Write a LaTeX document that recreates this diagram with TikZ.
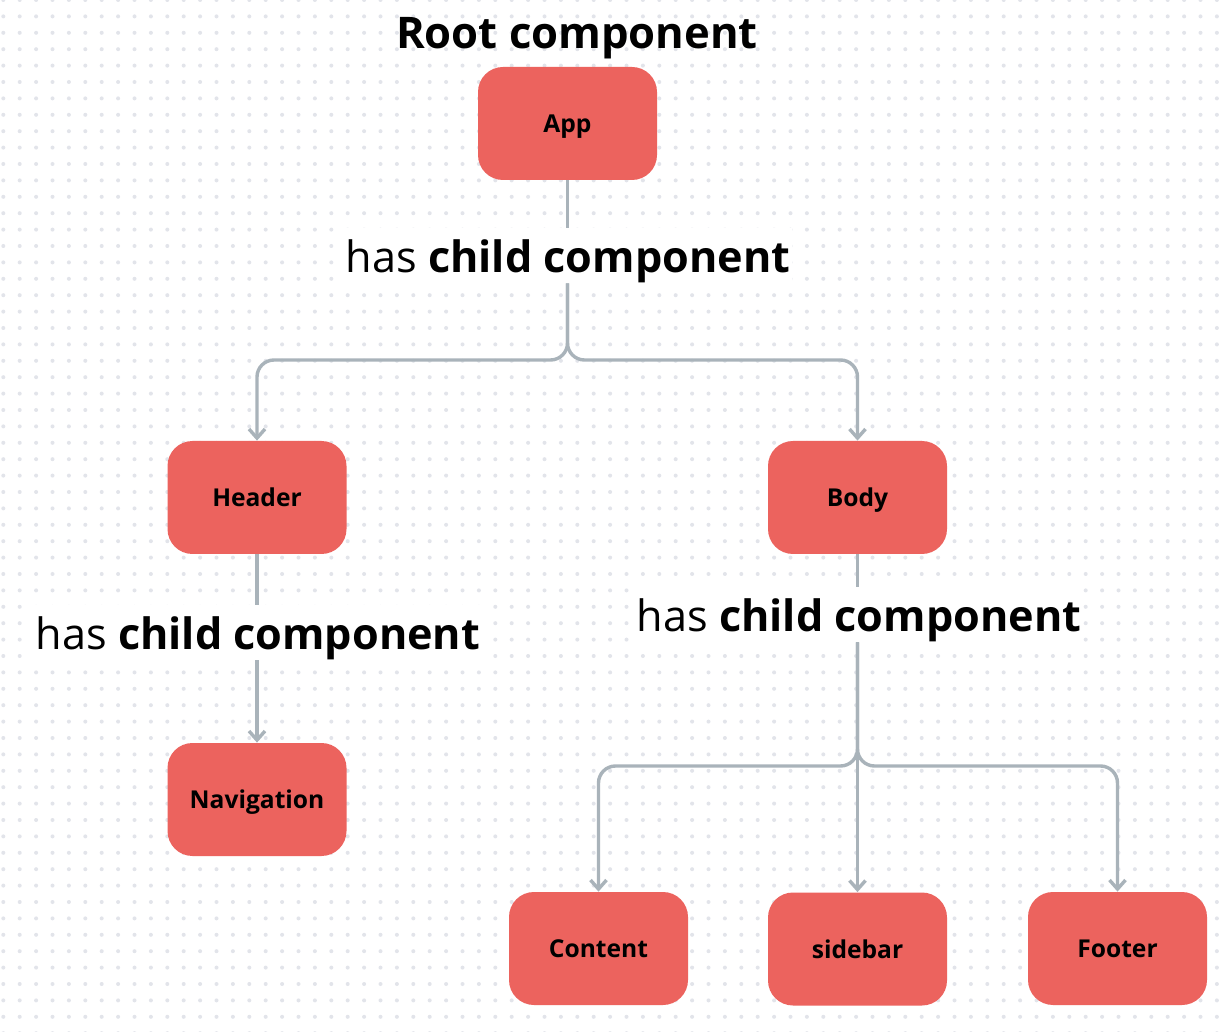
\documentclass[tikz,border=0pt]{standalone}
\usepackage{fontspec}
\setmainfont{Open Sans}
\usetikzlibrary{arrows.meta}
\definecolor{boxred}{HTML}{EC635E}
\definecolor{conn}{HTML}{A9B3BA}
\definecolor{dotc}{HTML}{E2E4EA}
\begin{document}
\begin{tikzpicture}[x=0.5pt,y=-0.5pt,
 comp/.style={fill=boxred, rounded corners=12.5pt, minimum width=89.5pt, minimum height=56.5pt, font=\bfseries\fontsize{12.3}{14}\selectfont, text=black, inner sep=0pt, text height=0.93em, text depth=0pt},
 lab/.style={fill=white, inner xsep=1pt, inner ysep=0pt, minimum height=27.5pt, text height=21.4pt, text depth=4.2pt, font=\fontsize{21.6}{26}\selectfont},
 link/.style={draw=conn, line width=1.7pt},
 arr/.style={link, rounded corners=8.5pt, -{Straight Barb[length=4.5pt,width=8pt]}},
]
\fill[white] (0,0) rectangle (1228,1032);
\useasboundingbox (0,0) rectangle (1228,1032);
\foreach \i in {0,...,74} \foreach \j in {0,...,63} \fill[dotc] (3.3+16.4*\i, 16.4*\j) circle (1pt);

\node[font=\bfseries\fontsize{21.8}{26}\selectfont] (title) at (577,38) {Root component};
\node[comp] (app) at (567.5,123.5) {App};
\node[comp] (header) at (257,497.5) {Header};
\node[comp] (body) at (857.5,497.5) {Body};
\node[comp] (nav) at (257,799.5) {Navigation};
\node[comp] (content) at (598.5,948.5) {Content};
\node[comp] (sidebar) at (857.5,949) {sidebar};
\node[comp] (footer) at (1117.5,948.5) {Footer};

\node[lab] (l1) at (568,255.5) {has \textbf{child component}};
\node[lab] (l2) at (258,632.5) {has \textbf{child component}};
\node[lab] (l3) at (859,614.5) {has \textbf{child component}};

\coordinate (f1) at (567.5,360);
\coordinate (f2) at (857.5,766);

\draw[link] (app.south) -- (app.south |- l1.north);
\draw[arr] (app.south |- l1.south) -- (f1) -| (header.north);
\draw[arr] (app.south |- l1.south) -- (f1) -| (body.north);

\draw[link] (header.south) -- (header.south |- l2.north);
\draw[arr] (header.south |- l2.south) -- (nav.north);

\draw[link] (body.south) -- (body.south |- l3.north);
\draw[arr] (body.south |- l3.south) -- (f2) -| (content.north);
\draw[arr] (body.south |- l3.south) -- (f2) -| (footer.north);
\draw[arr] (body.south |- l3.south) -- (sidebar.north);
\end{tikzpicture}
\end{document}
